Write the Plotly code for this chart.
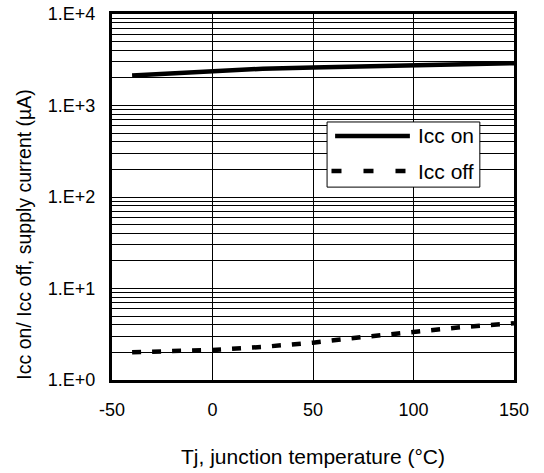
import plotly.graph_objects as go

temp = [-40, -20, 0, 25, 50, 75, 100, 125, 150]
icc_on = [2130, 2260, 2400, 2520, 2600, 2680, 2750, 2830, 2900]
icc_off = [2.01, 2.05, 2.13, 2.3, 2.56, 2.95, 3.38, 3.8, 4.18]

xtickvals = [-50, 0, 50, 100, 150]
xticktext = ["-50", "0", "50", "100", "150"]
ytickvals = [1, 10, 100, 1000, 10000]
yticktext = ["1.E+0", "1.E+1", "1.E+2", "1.E+3", "1.E+4"]
minor_vals = [m * 10 ** d for d in range(4) for m in range(2, 10)]

names = ["Icc on", "Icc off"]
dashes = ["solid", "9px,11px"]
x_title = "Tj, junction temperature (°C)"
y_title = "Icc on/ Icc off, supply current (µA)"

font = "Liberation Sans, Arial, sans-serif"

fig = go.Figure()
fig.add_trace(go.Scatter(x=temp, y=icc_on, mode="lines", name=names[0],
                         line=dict(color="black", width=4.5, dash=dashes[0])))
fig.add_trace(go.Scatter(x=temp, y=icc_off, mode="lines", name=names[1],
                         line=dict(color="black", width=4.5, dash=dashes[1])))

# manual legend (paper coordinates)
shapes = [dict(type="rect", xref="paper", yref="paper", x0=0.535, x1=0.915,
               y0=0.527, y1=0.705, line=dict(color="black", width=1),
               fillcolor="white", layer="above")]
legend_rows = [(0.667, "solid", 0.555, 0.741), (0.571, "10px,22px", 0.546, 0.731)]
annotations = []
for (yy, dsh, xa, xb), nm in zip(legend_rows, names):
    shapes.append(dict(type="line", xref="paper", yref="paper", x0=xa, x1=xb,
                       y0=yy, y1=yy, line=dict(color="black", width=4.5, dash=dsh),
                       layer="above"))
    annotations.append(dict(xref="paper", yref="paper", x=0.757, y=yy, text=nm,
                            showarrow=False, xanchor="left", yanchor="middle",
                            font=dict(size=21, family=font, color="black")))

# y-axis title (placed as annotation: it sits below the plot's centre in the reference)
annotations.append(dict(xref="paper", yref="paper", x=-0.219, y=0.397, text=y_title,
                        textangle=-90, showarrow=False, xanchor="center", yanchor="middle",
                        font=dict(size=19.5, family=font, color="black")))

fig.update_layout(
    width=544, height=473,
    margin=dict(l=112, r=30, t=14, b=93),
    paper_bgcolor="white", plot_bgcolor="white",
    font=dict(family=font, size=18, color="black"),
    showlegend=False,
    shapes=shapes, annotations=annotations,
    xaxis=dict(range=[-50, 150], tickvals=xtickvals, ticktext=xticktext,
               automargin=False,
               showgrid=True, gridcolor="black", gridwidth=1,
               showline=True, linecolor="black", linewidth=3, mirror=True,
               ticks="", zeroline=False, ticklabelstandoff=11,
               title=dict(text=x_title, font=dict(size=21), standoff=31),
               tickfont=dict(size=18)),
    yaxis=dict(type="log", range=[0, 4], tickvals=ytickvals, ticktext=yticktext,
               automargin=False,
               showgrid=True, gridcolor="black", gridwidth=1,
               showline=True, linecolor="black", linewidth=3, mirror=True,
               ticks="", ticklabelstandoff=10,
               minor=dict(tickvals=minor_vals, showgrid=True, gridcolor="black", gridwidth=1, ticks=""),
               zeroline=False,
               tickfont=dict(size=18)),
)
fig.write_html("out.html", post_script="document.body.style.margin='0px';",
               config={"displayModeBar": False})
